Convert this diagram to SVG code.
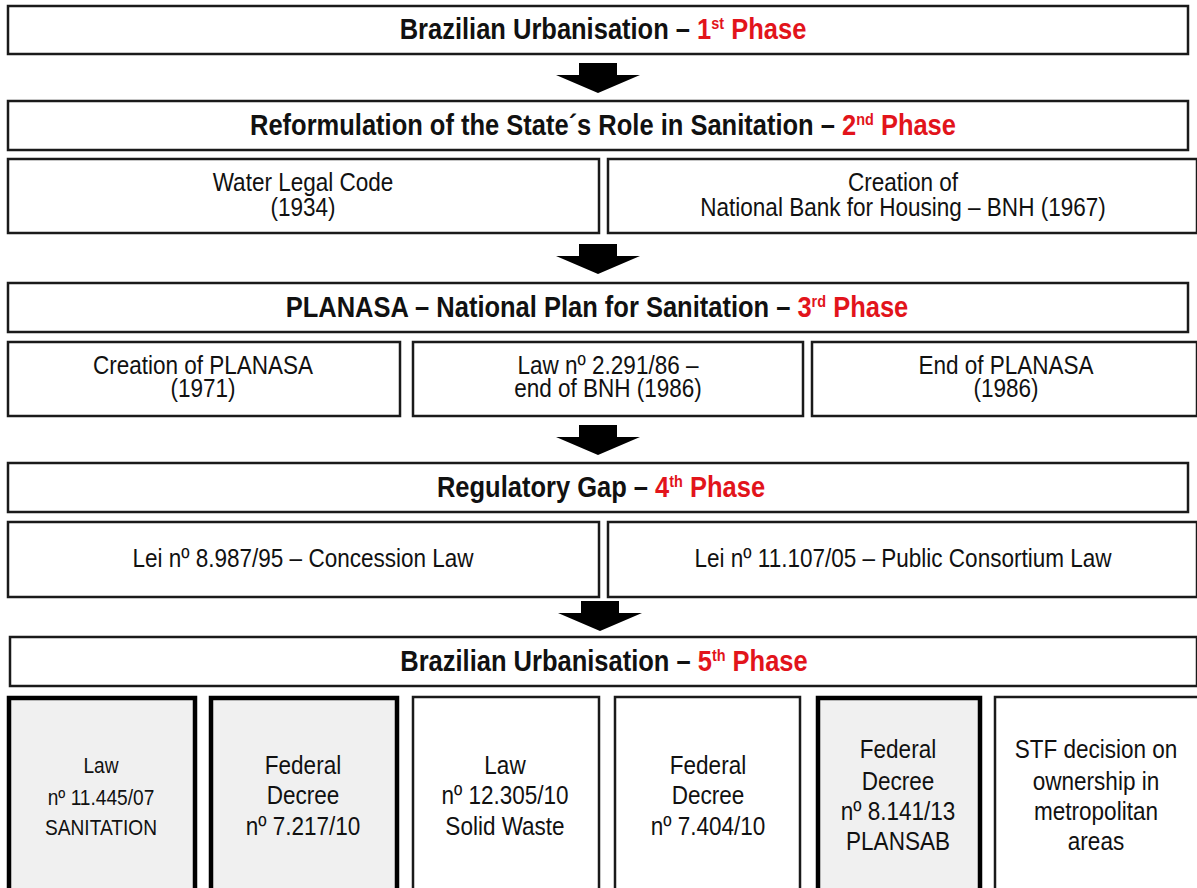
<svg xmlns="http://www.w3.org/2000/svg" width="1197" height="888" viewBox="0 0 1197 888">
  <defs>
    <style>
      .box { fill: #ffffff; stroke: #1a1a1a; stroke-width: 2.5; }
      .hl { fill: #f0f0f0; stroke: #000000; stroke-width: 4.5; }
      .t { font-family: "Liberation Sans", Arial, sans-serif; fill: #111111; text-anchor: middle; }
      .title { font-size: 30px; font-weight: bold; }
      .red { fill: #e2141b; }
      .sup { font-size: 17px; }
      .row { font-size: 26.5px; }
      .big { font-size: 26.5px; }
      .small { font-size: 22.5px; }
      .arrow { fill: #000000; }
    </style>
    <path id="blockArrow" d="M -19 0 H 19 V 12 H 42 L 0 30 L -42 12 H -19 Z"/>
  </defs>

  <!-- connectors between phases -->
  <g id="connectors" class="arrow">
    <use href="#blockArrow" x="598" y="63"/>
    <use href="#blockArrow" x="598" y="244"/>
    <use href="#blockArrow" x="598" y="425"/>
    <use href="#blockArrow" x="600" y="601"/>
  </g>

  <!-- Phase 1 (text is condensed horizontally to a narrow face) -->
  <g id="phase1">
    <rect class="box" x="8" y="6" width="1180" height="48"/>
    <text class="t title" transform="matrix(0.85 0 0 1 603 39)">Brazilian Urbanisation – <tspan class="red">1<tspan class="sup" dy="-10">st</tspan><tspan dy="10"> Phase</tspan></tspan></text>
  </g>

  <!-- Phase 2 -->
  <g id="phase2">
    <rect class="box" x="8" y="101" width="1180" height="49"/>
    <text class="t title" transform="matrix(0.85 0 0 1 603 135)">Reformulation of the State´s Role in Sanitation – <tspan class="red">2<tspan class="sup" dy="-10">nd</tspan><tspan dy="10"> Phase</tspan></tspan></text>
  </g>
  <g id="water-code">
    <rect class="box" x="8" y="159" width="591" height="74"/>
    <text class="t row" transform="matrix(0.85 0 0 1 303 191)">Water Legal Code</text>
    <text class="t row" transform="matrix(0.85 0 0 1 303 216)">(1934)</text>
  </g>
  <g id="bnh">
    <rect class="box" x="608" y="159" width="589" height="74"/>
    <text class="t row" transform="matrix(0.85 0 0 1 903 191)">Creation of</text>
    <text class="t row" transform="matrix(0.85 0 0 1 903 216)">National Bank for Housing – BNH (1967)</text>
  </g>

  <!-- Phase 3 -->
  <g id="phase3">
    <rect class="box" x="8" y="283" width="1180" height="49"/>
    <text class="t title" transform="matrix(0.85 0 0 1 597 317)">PLANASA – National Plan for Sanitation – <tspan class="red">3<tspan class="sup" dy="-10">rd</tspan><tspan dy="10"> Phase</tspan></tspan></text>
  </g>
  <g id="planasa-start">
    <rect class="box" x="8" y="342" width="392" height="74"/>
    <text class="t row" transform="matrix(0.85 0 0 1 203 374)">Creation of PLANASA</text>
    <text class="t row" transform="matrix(0.85 0 0 1 203 397)">(1971)</text>
  </g>
  <g id="law-2291">
    <rect class="box" x="413" y="342" width="390" height="74"/>
    <text class="t row" transform="matrix(0.85 0 0 1 608 374)">Law nº 2.291/86 –</text>
    <text class="t row" transform="matrix(0.85 0 0 1 608 397)">end of BNH (1986)</text>
  </g>
  <g id="planasa-end">
    <rect class="box" x="812" y="342" width="385" height="74"/>
    <text class="t row" transform="matrix(0.85 0 0 1 1006 374)">End of PLANASA</text>
    <text class="t row" transform="matrix(0.85 0 0 1 1006 397)">(1986)</text>
  </g>

  <!-- Phase 4 -->
  <g id="phase4">
    <rect class="box" x="8" y="463" width="1180" height="49"/>
    <text class="t title" transform="matrix(0.85 0 0 1 601 497)">Regulatory Gap – <tspan class="red">4<tspan class="sup" dy="-10">th</tspan><tspan dy="10"> Phase</tspan></tspan></text>
  </g>
  <g id="concession-law">
    <rect class="box" x="8" y="522" width="591" height="75"/>
    <text class="t row" transform="matrix(0.85 0 0 1 303 567)">Lei nº 8.987/95 – Concession Law</text>
  </g>
  <g id="consortium-law">
    <rect class="box" x="608" y="522" width="589" height="75"/>
    <text class="t row" transform="matrix(0.85 0 0 1 903 567)">Lei nº 11.107/05 – Public Consortium Law</text>
  </g>

  <!-- Phase 5 -->
  <g id="phase5">
    <rect class="box" x="10" y="637" width="1187" height="49"/>
    <text class="t title" transform="matrix(0.85 0 0 1 604 671)">Brazilian Urbanisation – <tspan class="red">5<tspan class="sup" dy="-10">th</tspan><tspan dy="10"> Phase</tspan></tspan></text>
  </g>
  <g id="law-11445">
    <rect class="hl" x="9" y="698" width="186" height="200"/>
    <text class="t small" transform="matrix(0.85 0 0 1 101 773)">Law</text>
    <text class="t small" transform="matrix(0.85 0 0 1 101 805)">nº 11.445/07</text>
    <text class="t small" transform="matrix(0.85 0 0 1 101 835)">SANITATION</text>
  </g>
  <g id="decree-7217">
    <rect class="hl" x="211" y="698" width="186" height="200"/>
    <text class="t big" transform="matrix(0.85 0 0 1 303 774)">Federal</text>
    <text class="t big" transform="matrix(0.85 0 0 1 303 804)">Decree</text>
    <text class="t big" transform="matrix(0.85 0 0 1 303 835)">nº 7.217/10</text>
  </g>
  <g id="law-12305">
    <rect class="box" x="413" y="697" width="186" height="200"/>
    <text class="t big" transform="matrix(0.85 0 0 1 505 774)">Law</text>
    <text class="t big" transform="matrix(0.85 0 0 1 505 804)">nº 12.305/10</text>
    <text class="t big" transform="matrix(0.85 0 0 1 505 835)">Solid Waste</text>
  </g>
  <g id="decree-7404">
    <rect class="box" x="615" y="697" width="185" height="200"/>
    <text class="t big" transform="matrix(0.85 0 0 1 708 774)">Federal</text>
    <text class="t big" transform="matrix(0.85 0 0 1 708 804)">Decree</text>
    <text class="t big" transform="matrix(0.85 0 0 1 708 835)">nº 7.404/10</text>
  </g>
  <g id="decree-8141">
    <rect class="hl" x="818" y="698" width="162" height="200"/>
    <text class="t big" transform="matrix(0.85 0 0 1 898 758)">Federal</text>
    <text class="t big" transform="matrix(0.85 0 0 1 898 790)">Decree</text>
    <text class="t big" transform="matrix(0.85 0 0 1 898 820)">nº 8.141/13</text>
    <text class="t big" transform="matrix(0.85 0 0 1 898 850)">PLANSAB</text>
  </g>
  <g id="stf-decision">
    <rect class="box" x="995" y="697" width="215" height="200"/>
    <text class="t big" transform="matrix(0.85 0 0 1 1096 758)">STF decision on</text>
    <text class="t big" transform="matrix(0.85 0 0 1 1096 790)">ownership in</text>
    <text class="t big" transform="matrix(0.85 0 0 1 1096 820)">metropolitan</text>
    <text class="t big" transform="matrix(0.85 0 0 1 1096 850)">areas</text>
  </g>
</svg>
